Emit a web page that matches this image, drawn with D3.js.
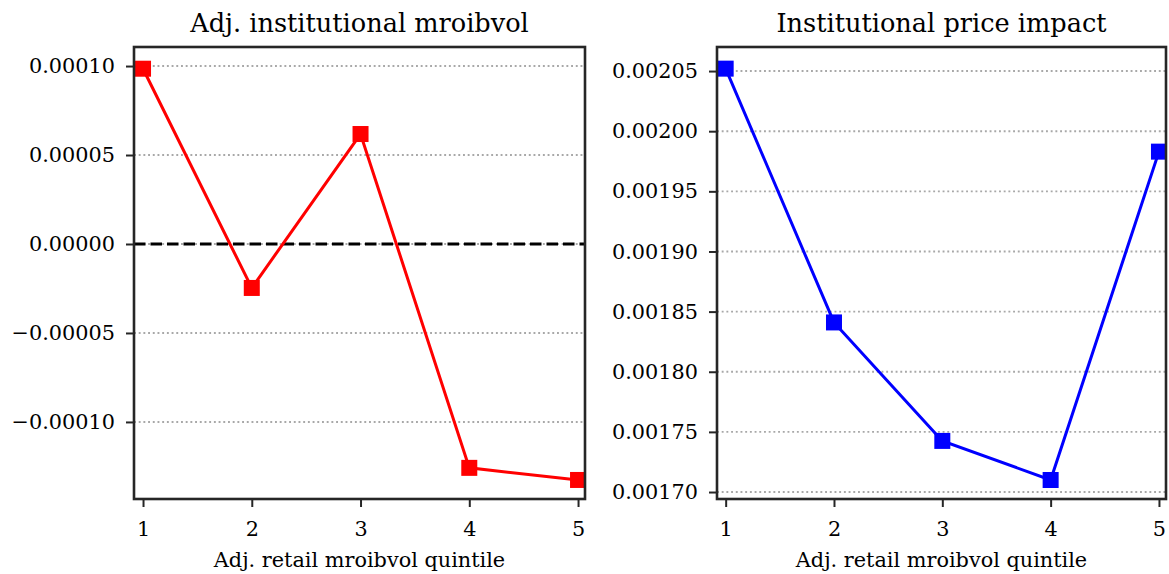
<!DOCTYPE html>
<html>
<head>
<meta charset="utf-8">
<script src="https://cdn.jsdelivr.net/npm/d3@7"></script>
<style>
  body { margin: 0; background: #fff; }
  svg { font-family: "DejaVu Serif", serif; }
</style>
</head>
<body>
<div id="chart"></div>
<script>
const quintiles = [1, 2, 3, 4, 5];
const instMroibvol = [0.0000985, -0.0000247, 0.0000618, -0.0001258, -0.0001326];
const instPriceImpact = [0.002052, 0.001841, 0.0017425, 0.00171, 0.001983];
const leftTicks = [-0.0001, -0.00005, 0, 0.00005, 0.0001];
const rightTicks = [0.0017, 0.00175, 0.0018, 0.00185, 0.0019, 0.00195, 0.002, 0.00205];

const width = 1169, height = 574;
const svg = d3.select("#chart").append("svg")
  .attr("width", width)
  .attr("height", height);

const fmt = (d) => {
  const s = Math.abs(d).toFixed(5);
  return d < -1e-12 ? "\u2212" + s : s;
};

const drawPanel = (opts) => {
  const { id, left, right, top, bottom, xDomain, yDomain, ticks, values, color, title, zeroLine } = opts;
  const x = d3.scaleLinear().domain(xDomain).range([left, right]);
  const y = d3.scaleLinear().domain(yDomain).range([bottom, top]);
  const g = svg.append("g");

  g.append("clipPath").attr("id", id)
    .append("rect")
    .attr("x", left).attr("y", top)
    .attr("width", right - left).attr("height", bottom - top);

  // grid lines
  g.selectAll(".grid")
    .data(ticks)
    .enter()
    .append("line")
    .attr("x1", left).attr("x2", right)
    .attr("y1", (d) => y(d)).attr("y2", (d) => y(d))
    .attr("stroke", "#a8a8a8")
    .attr("stroke-width", 1.9)
    .attr("stroke-dasharray", "1.9,2.8");

  if (zeroLine) {
    g.append("line")
      .attr("x1", left).attr("x2", right)
      .attr("y1", y(0)).attr("y2", y(0))
      .attr("stroke", "#000")
      .attr("stroke-width", 3.1)
      .attr("stroke-dasharray", "11.5,5");
  }

  const pts = quintiles.map((q, i) => [q, values[i]]);
  const plot = g.append("g").attr("clip-path", "url(#" + id + ")");
  plot.append("path")
    .datum(pts)
    .attr("fill", "none")
    .attr("stroke", color)
    .attr("stroke-width", 3)
    .attr("d", d3.line().x((d) => x(d[0])).y((d) => y(d[1])));
  const ms = 16;
  plot.selectAll(".pt")
    .data(pts)
    .enter()
    .append("rect")
    .attr("x", (d) => x(d[0]) - ms / 2)
    .attr("y", (d) => y(d[1]) - ms / 2)
    .attr("width", ms).attr("height", ms)
    .attr("fill", color);

  // axes
  const yAxis = g.append("g")
    .attr("transform", "translate(" + left + ",0)")
    .call(d3.axisLeft(y).tickValues(ticks).tickFormat(fmt).tickSize(8).tickPadding(11));
  const xAxis = g.append("g")
    .attr("transform", "translate(0," + bottom + ")")
    .call(d3.axisBottom(x).tickValues(quintiles).tickFormat(d3.format("d")).tickSize(8).tickPadding(14));
  [yAxis, xAxis].forEach((a) => {
    a.select(".domain").remove();
    a.selectAll(".tick line").attr("stroke", "#262626").attr("stroke-width", 2);
    a.selectAll(".tick text")
      .attr("fill", "#000")
      .style("font-size", "20.8px")
      .style("font-family", "DejaVu Serif");
  });

  g.append("rect")
    .attr("x", left).attr("y", top)
    .attr("width", right - left).attr("height", bottom - top)
    .attr("fill", "none")
    .attr("stroke", "#262626")
    .attr("stroke-width", 2.6);

  g.append("text")
    .attr("x", (left + right) / 2)
    .attr("y", 31.5)
    .attr("text-anchor", "middle")
    .style("font-size", "25.6px")
    .attr("fill", "#000")
    .text(title);

  g.append("text")
    .attr("x", (left + right) / 2)
    .attr("y", 566.5)
    .attr("text-anchor", "middle")
    .style("font-size", "20.8px")
    .attr("fill", "#000")
    .text("Adj. retail mroibvol quintile");
};

drawPanel({
  id: "clipL",
  left: 134, right: 585, top: 47, bottom: 499,
  xDomain: [0.917, 5.064],
  yDomain: [-0.0001433, 0.0001107],
  ticks: leftTicks,
  values: instMroibvol,
  color: "#ff0000",
  title: "Adj. institutional mroibvol",
  zeroLine: true
});

drawPanel({
  id: "clipR",
  left: 717, right: 1166, top: 47, bottom: 499,
  xDomain: [0.92, 5.065],
  yDomain: [0.0016942, 0.0020700],
  ticks: rightTicks,
  values: instPriceImpact,
  color: "#0000ff",
  title: "Institutional price impact",
  zeroLine: false
});
</script>
</body>
</html>
